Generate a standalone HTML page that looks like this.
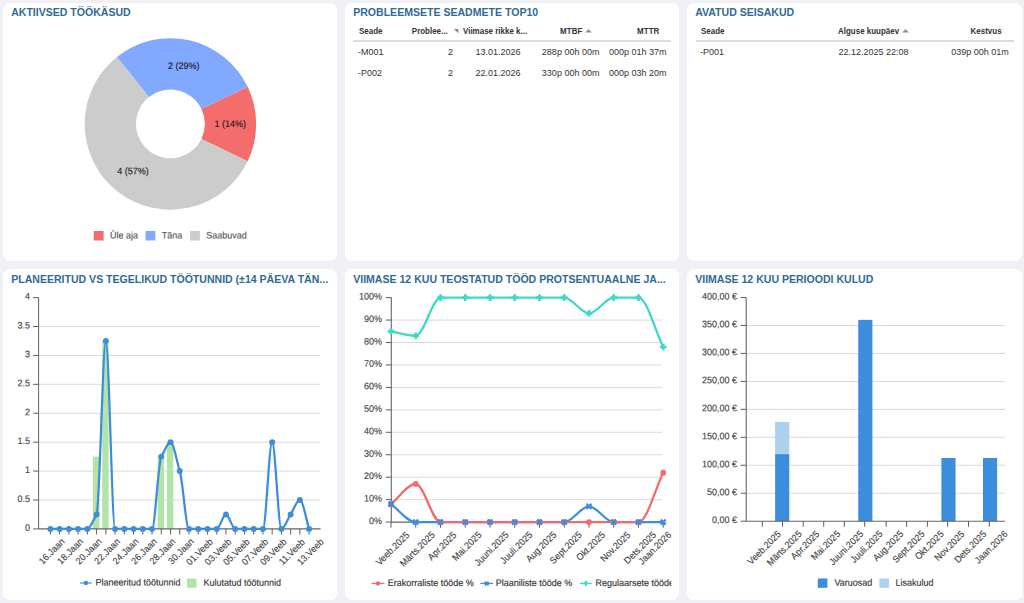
<!DOCTYPE html>
<html lang="et"><head><meta charset="utf-8"><title>Dashboard</title>
<style>
html,body{margin:0;padding:0}
body{width:1024px;height:603px;overflow:hidden;background:#f0f0f5;font-family:"Liberation Sans", Arial, sans-serif;position:relative}
.p{position:absolute;background:#fff;border-radius:7px}
.ttl{position:absolute;font-weight:bold;font-size:10.55px;line-height:12px;color:#2f6a94;white-space:nowrap}
.t{position:absolute;white-space:nowrap;color:#333}
.t.h{font-weight:bold;font-size:8.4px;line-height:12px;transform:scaleX(0.952);transform-origin:0 0}
.t.h.r{transform-origin:100% 0}
.t.d{font-size:9px;line-height:12px}
.hl{position:absolute;height:1.6px;background:#dcdcdc}
svg{position:absolute;left:0;top:0}
svg text{font-family:"Liberation Sans", Arial, sans-serif;stroke-width:0.14px;paint-order:stroke}
</style></head><body>
<div class="p" style="left:3.3px;top:2.8px;width:334px;height:258.2px"></div>
<div class="p" style="left:3.3px;top:268.7px;width:334px;height:331.7px"></div>
<div class="p" style="left:345px;top:2.8px;width:334.35px;height:258.2px"></div>
<div class="p" style="left:345px;top:268.7px;width:334.35px;height:331.7px"></div>
<div class="p" style="left:687.4px;top:2.8px;width:334.4px;height:258.2px"></div>
<div class="p" style="left:687.4px;top:268.7px;width:334.4px;height:331.7px"></div>
<div class="ttl" style="left:11.2px;top:6.35px">AKTIIVSED TÖÖKÄSUD</div>
<div class="ttl" style="left:353.2px;top:6.35px">PROBLEEMSETE SEADMETE TOP10</div>
<div class="ttl" style="left:695.2px;top:6.35px">AVATUD SEISAKUD</div>
<div class="ttl" style="left:11.2px;top:272.85px">PLANEERITUD VS TEGELIKUD TÖÖTUNNID (±14 PÄEVA TÄN...</div>
<div class="ttl" style="left:353.2px;top:272.85px">VIIMASE 12 KUU TEOSTATUD TÖÖD PROTSENTUAALNE JA...</div>
<div class="ttl" style="left:695.2px;top:272.85px">VIIMASE 12 KUU PERIOODI KULUD</div>
<span class="t h" style="left:359.3px;top:25px">Seade</span><span class="t h r" style="right:576.1px;top:25px">Problee...</span><span class="t h" style="left:462.8px;top:25px">Viimase rikke k...</span><span class="t h r" style="right:441.6px;top:25px">MTBF</span><span class="t h r" style="right:364.8px;top:25px">MTTR</span><span class="t d" style="left:358px;top:46px">-M001</span><span class="t d r" style="right:570.9px;top:46px">2</span><span class="t d" style="left:475.5px;top:46px">13.01.2026</span><span class="t d r" style="right:424.6px;top:46px">288p 00h 00m</span><span class="t d r" style="right:357.5px;top:46px">000p 01h 37m</span><span class="t d" style="left:358px;top:67px">-P002</span><span class="t d r" style="right:570.9px;top:67px">2</span><span class="t d" style="left:475.5px;top:67px">22.01.2026</span><span class="t d r" style="right:424.6px;top:67px">330p 00h 00m</span><span class="t d r" style="right:357.5px;top:67px">000p 03h 20m</span><div class="hl" style="left:353.3px;top:40.3px;width:317.9px"></div>
<span class="t h" style="left:701.3px;top:25px">Seade</span><span class="t h" style="left:837.8px;top:25px">Alguse kuupäev</span><span class="t h r" style="right:22.8px;top:25px">Kestvus</span><span class="t d" style="left:700px;top:46px">-P001</span><span class="t d" style="left:838.5px;top:46px">22.12.2025 22:08</span><span class="t d r" style="right:15.2px;top:46px">039p 00h 01m</span><div class="hl" style="left:695.6px;top:40.3px;width:318.2px"></div>
<svg width="1024" height="603" viewBox="0 0 1024 603">
<g><path d="M247.66 161.16A85.75 85.75 0 0 0 247.66 86.74L201.39 109.02A34.4 34.4 0 0 1 201.39 138.88Z" fill="#f56c6c"/><path d="M247.66 86.74A85.75 85.75 0 0 0 116.94 56.91L148.95 97.05A34.4 34.4 0 0 1 201.39 109.02Z" fill="#80a9ff"/><path d="M116.94 56.91A85.75 85.75 0 1 0 247.66 161.16L201.39 138.88A34.4 34.4 0 1 1 148.95 97.05Z" fill="#cccccc"/><g font-size="9" fill="#1c1c1c" stroke="#1c1c1c"><text transform="translate(183.7 68.9) rotate(0.03) scale(1 1.05)" text-anchor="middle">2 (29%)</text><text transform="translate(230.3 126.9) rotate(0.03) scale(1 1.05)" text-anchor="middle">1 (14%)</text><text transform="translate(133 174.2) rotate(0.03) scale(1 1.05)" text-anchor="middle">4 (57%)</text></g><rect x="93.8" y="231" width="9.8" height="9.5" fill="#f56c6c"/><rect x="145.6" y="231" width="9.8" height="9.5" fill="#80a9ff"/><rect x="190.1" y="231" width="9.8" height="9.5" fill="#cccccc"/><g font-size="9" fill="#555555" stroke="#555555"><text transform="translate(110 238.5) rotate(0.03) scale(1 1.05)">Üle aja</text><text transform="translate(161.8 238.5) rotate(0.03) scale(1 1.05)">Täna</text><text transform="translate(206.3 238.5) rotate(0.03) scale(1 1.05)">Saabuvad</text></g></g>
<g><line x1="38.6" x2="320.6" y1="499.99" y2="499.99" stroke="#d6d6d6" stroke-width="0.9"/><line x1="38.6" x2="320.6" y1="471.07" y2="471.07" stroke="#d6d6d6" stroke-width="0.9"/><line x1="38.6" x2="320.6" y1="442.16" y2="442.16" stroke="#d6d6d6" stroke-width="0.9"/><line x1="38.6" x2="320.6" y1="413.25" y2="413.25" stroke="#d6d6d6" stroke-width="0.9"/><line x1="38.6" x2="320.6" y1="384.34" y2="384.34" stroke="#d6d6d6" stroke-width="0.9"/><line x1="38.6" x2="320.6" y1="355.43" y2="355.43" stroke="#d6d6d6" stroke-width="0.9"/><line x1="38.6" x2="320.6" y1="326.51" y2="326.51" stroke="#d6d6d6" stroke-width="0.9"/><rect x="93" y="456.62" width="6.4" height="72.28" fill="#b2e3a7"/><rect x="102.24" y="340.97" width="6.4" height="187.93" fill="#b2e3a7"/><rect x="157.68" y="456.62" width="6.4" height="72.28" fill="#b2e3a7"/><rect x="166.92" y="442.16" width="6.4" height="86.74" fill="#b2e3a7"/><line x1="38.6" x2="38.6" y1="297.6" y2="528.9" stroke="#666666" stroke-width="1"/><line x1="38.6" x2="320.6" y1="528.9" y2="528.9" stroke="#666666" stroke-width="1.1"/><line x1="33.1" x2="38.6" y1="528.9" y2="528.9" stroke="#555555" stroke-width="0.95"/><line x1="33.1" x2="38.6" y1="499.99" y2="499.99" stroke="#555555" stroke-width="0.95"/><line x1="33.1" x2="38.6" y1="471.07" y2="471.07" stroke="#555555" stroke-width="0.95"/><line x1="33.1" x2="38.6" y1="442.16" y2="442.16" stroke="#555555" stroke-width="0.95"/><line x1="33.1" x2="38.6" y1="413.25" y2="413.25" stroke="#555555" stroke-width="0.95"/><line x1="33.1" x2="38.6" y1="384.34" y2="384.34" stroke="#555555" stroke-width="0.95"/><line x1="33.1" x2="38.6" y1="355.43" y2="355.43" stroke="#555555" stroke-width="0.95"/><line x1="33.1" x2="38.6" y1="326.51" y2="326.51" stroke="#555555" stroke-width="0.95"/><line x1="33.1" x2="38.6" y1="297.6" y2="297.6" stroke="#555555" stroke-width="0.95"/><line x1="50.4" x2="50.4" y1="528.9" y2="534.5" stroke="#555555" stroke-width="0.95"/><line x1="59.64" x2="59.64" y1="528.9" y2="534.5" stroke="#555555" stroke-width="0.95"/><line x1="68.88" x2="68.88" y1="528.9" y2="534.5" stroke="#555555" stroke-width="0.95"/><line x1="78.12" x2="78.12" y1="528.9" y2="534.5" stroke="#555555" stroke-width="0.95"/><line x1="87.36" x2="87.36" y1="528.9" y2="534.5" stroke="#555555" stroke-width="0.95"/><line x1="96.6" x2="96.6" y1="528.9" y2="534.5" stroke="#555555" stroke-width="0.95"/><line x1="105.84" x2="105.84" y1="528.9" y2="534.5" stroke="#555555" stroke-width="0.95"/><line x1="115.08" x2="115.08" y1="528.9" y2="534.5" stroke="#555555" stroke-width="0.95"/><line x1="124.32" x2="124.32" y1="528.9" y2="534.5" stroke="#555555" stroke-width="0.95"/><line x1="133.56" x2="133.56" y1="528.9" y2="534.5" stroke="#555555" stroke-width="0.95"/><line x1="142.8" x2="142.8" y1="528.9" y2="534.5" stroke="#555555" stroke-width="0.95"/><line x1="152.04" x2="152.04" y1="528.9" y2="534.5" stroke="#555555" stroke-width="0.95"/><line x1="161.28" x2="161.28" y1="528.9" y2="534.5" stroke="#555555" stroke-width="0.95"/><line x1="170.52" x2="170.52" y1="528.9" y2="534.5" stroke="#555555" stroke-width="0.95"/><line x1="179.76" x2="179.76" y1="528.9" y2="534.5" stroke="#555555" stroke-width="0.95"/><line x1="189" x2="189" y1="528.9" y2="534.5" stroke="#555555" stroke-width="0.95"/><line x1="198.24" x2="198.24" y1="528.9" y2="534.5" stroke="#555555" stroke-width="0.95"/><line x1="207.48" x2="207.48" y1="528.9" y2="534.5" stroke="#555555" stroke-width="0.95"/><line x1="216.72" x2="216.72" y1="528.9" y2="534.5" stroke="#555555" stroke-width="0.95"/><line x1="225.96" x2="225.96" y1="528.9" y2="534.5" stroke="#555555" stroke-width="0.95"/><line x1="235.2" x2="235.2" y1="528.9" y2="534.5" stroke="#555555" stroke-width="0.95"/><line x1="244.44" x2="244.44" y1="528.9" y2="534.5" stroke="#555555" stroke-width="0.95"/><line x1="253.68" x2="253.68" y1="528.9" y2="534.5" stroke="#555555" stroke-width="0.95"/><line x1="262.92" x2="262.92" y1="528.9" y2="534.5" stroke="#555555" stroke-width="0.95"/><line x1="272.16" x2="272.16" y1="528.9" y2="534.5" stroke="#555555" stroke-width="0.95"/><line x1="281.4" x2="281.4" y1="528.9" y2="534.5" stroke="#555555" stroke-width="0.95"/><line x1="290.64" x2="290.64" y1="528.9" y2="534.5" stroke="#555555" stroke-width="0.95"/><line x1="299.88" x2="299.88" y1="528.9" y2="534.5" stroke="#555555" stroke-width="0.95"/><line x1="309.12" x2="309.12" y1="528.9" y2="534.5" stroke="#555555" stroke-width="0.95"/><g font-size="9" fill="#444444" stroke="#444444" text-anchor="end"><text transform="translate(30.1 530.8) rotate(0.03) scale(1 1.05)">0</text><text transform="translate(30.1 501.89) rotate(0.03) scale(1 1.05)">0.5</text><text transform="translate(30.1 472.97) rotate(0.03) scale(1 1.05)">1</text><text transform="translate(30.1 444.06) rotate(0.03) scale(1 1.05)">1.5</text><text transform="translate(30.1 415.15) rotate(0.03) scale(1 1.05)">2</text><text transform="translate(30.1 386.24) rotate(0.03) scale(1 1.05)">2.5</text><text transform="translate(30.1 357.32) rotate(0.03) scale(1 1.05)">3</text><text transform="translate(30.1 328.41) rotate(0.03) scale(1 1.05)">3.5</text><text transform="translate(30.1 299.5) rotate(0.03) scale(1 1.05)">4</text></g><g font-size="9" fill="#444444" stroke="#444444"><text transform="translate(51.6 551.23) rotate(-45) scale(1 1.05)" text-anchor="middle" dy="0.35em">16.Jaan</text><text transform="translate(70.08 551.23) rotate(-45) scale(1 1.05)" text-anchor="middle" dy="0.35em">18.Jaan</text><text transform="translate(88.56 551.23) rotate(-45) scale(1 1.05)" text-anchor="middle" dy="0.35em">20.Jaan</text><text transform="translate(107.04 551.23) rotate(-45) scale(1 1.05)" text-anchor="middle" dy="0.35em">22.Jaan</text><text transform="translate(125.52 551.23) rotate(-45) scale(1 1.05)" text-anchor="middle" dy="0.35em">24.Jaan</text><text transform="translate(144 551.23) rotate(-45) scale(1 1.05)" text-anchor="middle" dy="0.35em">26.Jaan</text><text transform="translate(162.48 551.23) rotate(-45) scale(1 1.05)" text-anchor="middle" dy="0.35em">28.Jaan</text><text transform="translate(180.96 551.23) rotate(-45) scale(1 1.05)" text-anchor="middle" dy="0.35em">30.Jaan</text><text transform="translate(199.44 551.77) rotate(-45) scale(1 1.05)" text-anchor="middle" dy="0.35em">01.Veeb</text><text transform="translate(217.92 551.77) rotate(-45) scale(1 1.05)" text-anchor="middle" dy="0.35em">03.Veeb</text><text transform="translate(236.4 551.77) rotate(-45) scale(1 1.05)" text-anchor="middle" dy="0.35em">05.Veeb</text><text transform="translate(254.88 551.77) rotate(-45) scale(1 1.05)" text-anchor="middle" dy="0.35em">07.Veeb</text><text transform="translate(273.36 551.77) rotate(-45) scale(1 1.05)" text-anchor="middle" dy="0.35em">09.Veeb</text><text transform="translate(291.84 551.77) rotate(-45) scale(1 1.05)" text-anchor="middle" dy="0.35em">11.Veeb</text><text transform="translate(310.32 551.77) rotate(-45) scale(1 1.05)" text-anchor="middle" dy="0.35em">13.Veeb</text></g><path d="M50.4 528.9C53.48 528.9 56.56 528.9 59.64 528.9C62.72 528.9 65.8 528.9 68.88 528.9C71.96 528.9 75.04 528.9 78.12 528.9C81.2 528.9 84.28 528.9 87.36 528.9C90.44 528.9 93.52 519.26 96.6 514.44C99.68 509.63 102.76 340.97 105.84 340.97C108.92 340.97 112 528.9 115.08 528.9C118.16 528.9 121.24 528.9 124.32 528.9C127.4 528.9 130.48 528.9 133.56 528.9C136.64 528.9 139.72 528.9 142.8 528.9C145.88 528.9 148.96 528.9 152.04 528.9C155.12 528.9 158.2 461.44 161.28 456.62C164.36 451.8 167.44 442.16 170.52 442.16C173.6 442.16 176.68 461.44 179.76 471.07C182.84 480.71 185.92 528.9 189 528.9C192.08 528.9 195.16 528.9 198.24 528.9C201.32 528.9 204.4 528.9 207.48 528.9C210.56 528.9 213.64 528.9 216.72 528.9C219.8 528.9 222.88 514.44 225.96 514.44C229.04 514.44 232.12 528.9 235.2 528.9C238.28 528.9 241.36 528.9 244.44 528.9C247.52 528.9 250.6 528.9 253.68 528.9C256.76 528.9 259.84 528.9 262.92 528.9C266 528.9 269.08 442.16 272.16 442.16C275.24 442.16 278.32 528.9 281.4 528.9C284.48 528.9 287.56 519.26 290.64 514.44C293.72 509.63 296.8 499.99 299.88 499.99C302.96 499.99 306.04 519.26 309.12 528.9" fill="none" stroke="#3d8ddd" stroke-width="2.25" stroke-linejoin="round"/><circle cx="50.4" cy="528.9" r="2.95" fill="#3d8ddd"/><circle cx="59.64" cy="528.9" r="2.95" fill="#3d8ddd"/><circle cx="68.88" cy="528.9" r="2.95" fill="#3d8ddd"/><circle cx="78.12" cy="528.9" r="2.95" fill="#3d8ddd"/><circle cx="87.36" cy="528.9" r="2.95" fill="#3d8ddd"/><circle cx="96.6" cy="514.44" r="2.95" fill="#3d8ddd"/><circle cx="105.84" cy="340.97" r="2.95" fill="#3d8ddd"/><circle cx="115.08" cy="528.9" r="2.95" fill="#3d8ddd"/><circle cx="124.32" cy="528.9" r="2.95" fill="#3d8ddd"/><circle cx="133.56" cy="528.9" r="2.95" fill="#3d8ddd"/><circle cx="142.8" cy="528.9" r="2.95" fill="#3d8ddd"/><circle cx="152.04" cy="528.9" r="2.95" fill="#3d8ddd"/><circle cx="161.28" cy="456.62" r="2.95" fill="#3d8ddd"/><circle cx="170.52" cy="442.16" r="2.95" fill="#3d8ddd"/><circle cx="179.76" cy="471.07" r="2.95" fill="#3d8ddd"/><circle cx="189" cy="528.9" r="2.95" fill="#3d8ddd"/><circle cx="198.24" cy="528.9" r="2.95" fill="#3d8ddd"/><circle cx="207.48" cy="528.9" r="2.95" fill="#3d8ddd"/><circle cx="216.72" cy="528.9" r="2.95" fill="#3d8ddd"/><circle cx="225.96" cy="514.44" r="2.95" fill="#3d8ddd"/><circle cx="235.2" cy="528.9" r="2.95" fill="#3d8ddd"/><circle cx="244.44" cy="528.9" r="2.95" fill="#3d8ddd"/><circle cx="253.68" cy="528.9" r="2.95" fill="#3d8ddd"/><circle cx="262.92" cy="528.9" r="2.95" fill="#3d8ddd"/><circle cx="272.16" cy="442.16" r="2.95" fill="#3d8ddd"/><circle cx="281.4" cy="528.9" r="2.95" fill="#3d8ddd"/><circle cx="290.64" cy="514.44" r="2.95" fill="#3d8ddd"/><circle cx="299.88" cy="499.99" r="2.95" fill="#3d8ddd"/><circle cx="309.12" cy="528.9" r="2.95" fill="#3d8ddd"/><line x1="79.9" x2="91.6" y1="583" y2="583" stroke="#3d8ddd" stroke-width="1.2"/><circle cx="85.9" cy="583" r="2.2" fill="#3d8ddd"/><rect x="187" y="578.6" width="9.5" height="9.2" fill="#b2e3a7"/><g font-size="9" fill="#333333" stroke="#333333"><text transform="translate(95.6 585.5) rotate(0.03) scale(1 1.05)">Planeeritud töötunnid</text><text transform="translate(203.4 585.7) rotate(0.03) scale(1 1.05)">Kulutatud töötunnid</text></g></g>
<g><line x1="391.3" x2="662.2" y1="499.65" y2="499.65" stroke="#d6d6d6" stroke-width="0.9"/><line x1="391.3" x2="662.2" y1="477.2" y2="477.2" stroke="#d6d6d6" stroke-width="0.9"/><line x1="391.3" x2="662.2" y1="454.75" y2="454.75" stroke="#d6d6d6" stroke-width="0.9"/><line x1="391.3" x2="662.2" y1="432.3" y2="432.3" stroke="#d6d6d6" stroke-width="0.9"/><line x1="391.3" x2="662.2" y1="409.85" y2="409.85" stroke="#d6d6d6" stroke-width="0.9"/><line x1="391.3" x2="662.2" y1="387.4" y2="387.4" stroke="#d6d6d6" stroke-width="0.9"/><line x1="391.3" x2="662.2" y1="364.95" y2="364.95" stroke="#d6d6d6" stroke-width="0.9"/><line x1="391.3" x2="662.2" y1="342.5" y2="342.5" stroke="#d6d6d6" stroke-width="0.9"/><line x1="391.3" x2="662.2" y1="320.05" y2="320.05" stroke="#d6d6d6" stroke-width="0.9"/><line x1="391.3" x2="391.3" y1="297.6" y2="522.1" stroke="#666666" stroke-width="1.1"/><line x1="391.3" x2="662.2" y1="522.1" y2="522.1" stroke="#666666" stroke-width="1.1"/><line x1="385.8" x2="391.3" y1="522.1" y2="522.1" stroke="#555555" stroke-width="0.95"/><line x1="385.8" x2="391.3" y1="499.65" y2="499.65" stroke="#555555" stroke-width="0.95"/><line x1="385.8" x2="391.3" y1="477.2" y2="477.2" stroke="#555555" stroke-width="0.95"/><line x1="385.8" x2="391.3" y1="454.75" y2="454.75" stroke="#555555" stroke-width="0.95"/><line x1="385.8" x2="391.3" y1="432.3" y2="432.3" stroke="#555555" stroke-width="0.95"/><line x1="385.8" x2="391.3" y1="409.85" y2="409.85" stroke="#555555" stroke-width="0.95"/><line x1="385.8" x2="391.3" y1="387.4" y2="387.4" stroke="#555555" stroke-width="0.95"/><line x1="385.8" x2="391.3" y1="364.95" y2="364.95" stroke="#555555" stroke-width="0.95"/><line x1="385.8" x2="391.3" y1="342.5" y2="342.5" stroke="#555555" stroke-width="0.95"/><line x1="385.8" x2="391.3" y1="320.05" y2="320.05" stroke="#555555" stroke-width="0.95"/><line x1="385.8" x2="391.3" y1="297.6" y2="297.6" stroke="#555555" stroke-width="0.95"/><line x1="391" x2="391" y1="522.1" y2="527.7" stroke="#555555" stroke-width="0.95"/><line x1="415.75" x2="415.75" y1="522.1" y2="527.7" stroke="#555555" stroke-width="0.95"/><line x1="440.5" x2="440.5" y1="522.1" y2="527.7" stroke="#555555" stroke-width="0.95"/><line x1="465.25" x2="465.25" y1="522.1" y2="527.7" stroke="#555555" stroke-width="0.95"/><line x1="490" x2="490" y1="522.1" y2="527.7" stroke="#555555" stroke-width="0.95"/><line x1="514.75" x2="514.75" y1="522.1" y2="527.7" stroke="#555555" stroke-width="0.95"/><line x1="539.5" x2="539.5" y1="522.1" y2="527.7" stroke="#555555" stroke-width="0.95"/><line x1="564.25" x2="564.25" y1="522.1" y2="527.7" stroke="#555555" stroke-width="0.95"/><line x1="589" x2="589" y1="522.1" y2="527.7" stroke="#555555" stroke-width="0.95"/><line x1="613.75" x2="613.75" y1="522.1" y2="527.7" stroke="#555555" stroke-width="0.95"/><line x1="638.5" x2="638.5" y1="522.1" y2="527.7" stroke="#555555" stroke-width="0.95"/><line x1="663.25" x2="663.25" y1="522.1" y2="527.7" stroke="#555555" stroke-width="0.95"/><g font-size="9" fill="#444444" stroke="#444444" text-anchor="end"><text transform="translate(382.1 524) rotate(0.03) scale(1 1.05)">0%</text><text transform="translate(382.1 501.55) rotate(0.03) scale(1 1.05)">10%</text><text transform="translate(382.1 479.1) rotate(0.03) scale(1 1.05)">20%</text><text transform="translate(382.1 456.65) rotate(0.03) scale(1 1.05)">30%</text><text transform="translate(382.1 434.2) rotate(0.03) scale(1 1.05)">40%</text><text transform="translate(382.1 411.75) rotate(0.03) scale(1 1.05)">50%</text><text transform="translate(382.1 389.3) rotate(0.03) scale(1 1.05)">60%</text><text transform="translate(382.1 366.85) rotate(0.03) scale(1 1.05)">70%</text><text transform="translate(382.1 344.4) rotate(0.03) scale(1 1.05)">80%</text><text transform="translate(382.1 321.95) rotate(0.03) scale(1 1.05)">90%</text><text transform="translate(382.1 299.5) rotate(0.03) scale(1 1.05)">100%</text></g><g font-size="9" fill="#444444" stroke="#444444"><text transform="translate(392.5 548.5) rotate(-45) scale(1 1.05)" text-anchor="middle" dy="0.35em">Veeb.2025</text><text transform="translate(417.25 549.03) rotate(-45) scale(1 1.05)" text-anchor="middle" dy="0.35em">Märts.2025</text><text transform="translate(442 546.02) rotate(-45) scale(1 1.05)" text-anchor="middle" dy="0.35em">Apr.2025</text><text transform="translate(466.75 546.2) rotate(-45) scale(1 1.05)" text-anchor="middle" dy="0.35em">Mai.2025</text><text transform="translate(491.5 548.68) rotate(-45) scale(1 1.05)" text-anchor="middle" dy="0.35em">Juuni.2025</text><text transform="translate(516.25 547.62) rotate(-45) scale(1 1.05)" text-anchor="middle" dy="0.35em">Juuli.2025</text><text transform="translate(541 546.73) rotate(-45) scale(1 1.05)" text-anchor="middle" dy="0.35em">Aug.2025</text><text transform="translate(565.75 547.62) rotate(-45) scale(1 1.05)" text-anchor="middle" dy="0.35em">Sept.2025</text><text transform="translate(590.5 546.02) rotate(-45) scale(1 1.05)" text-anchor="middle" dy="0.35em">Okt.2025</text><text transform="translate(615.25 546.73) rotate(-45) scale(1 1.05)" text-anchor="middle" dy="0.35em">Nov.2025</text><text transform="translate(640 547.62) rotate(-45) scale(1 1.05)" text-anchor="middle" dy="0.35em">Dets.2025</text><text transform="translate(654.73 547.97) rotate(-45) scale(1 1.05)" text-anchor="middle" dy="0.35em">Jaan.2026</text></g><path d="M391 504.14C399.25 510.13 407.5 522.1 415.75 522.1C424 522.1 432.25 522.1 440.5 522.1C448.75 522.1 457 522.1 465.25 522.1C473.5 522.1 481.75 522.1 490 522.1C498.25 522.1 506.5 522.1 514.75 522.1C523 522.1 531.25 522.1 539.5 522.1C547.75 522.1 556 522.1 564.25 522.1C572.5 522.1 580.75 506.39 589 506.39C597.25 506.39 605.5 522.1 613.75 522.1C622 522.1 630.25 522.1 638.5 522.1C646.75 522.1 655 522.1 663.25 522.1" fill="none" stroke="#3d8ddd" stroke-width="2.25" stroke-linejoin="round"/><path d="M391 504.14C399.25 497.41 407.5 483.94 415.75 483.94C424 483.94 432.25 522.1 440.5 522.1C448.75 522.1 457 522.1 465.25 522.1C473.5 522.1 481.75 522.1 490 522.1C498.25 522.1 506.5 522.1 514.75 522.1C523 522.1 531.25 522.1 539.5 522.1C547.75 522.1 556 522.1 564.25 522.1C572.5 522.1 580.75 522.1 589 522.1C597.25 522.1 605.5 522.1 613.75 522.1C622 522.1 630.25 522.1 638.5 522.1C646.75 522.1 655 489.17 663.25 472.71" fill="none" stroke="#f4696d" stroke-width="2.25" stroke-linejoin="round"/><path d="M391 331.28C399.25 332.77 407.5 335.76 415.75 335.76C424 335.76 432.25 297.6 440.5 297.6C448.75 297.6 457 297.6 465.25 297.6C473.5 297.6 481.75 297.6 490 297.6C498.25 297.6 506.5 297.6 514.75 297.6C523 297.6 531.25 297.6 539.5 297.6C547.75 297.6 556 297.6 564.25 297.6C572.5 297.6 580.75 313.32 589 313.32C597.25 313.32 605.5 297.6 613.75 297.6C622 297.6 630.25 297.6 638.5 297.6C646.75 297.6 655 330.53 663.25 346.99" fill="none" stroke="#3ed9c6" stroke-width="2.25" stroke-linejoin="round"/><circle cx="391" cy="504.14" r="2.9" fill="#f4696d"/><circle cx="415.75" cy="483.94" r="2.9" fill="#f4696d"/><circle cx="440.5" cy="522.1" r="2.9" fill="#f4696d"/><circle cx="465.25" cy="522.1" r="2.9" fill="#f4696d"/><circle cx="490" cy="522.1" r="2.9" fill="#f4696d"/><circle cx="514.75" cy="522.1" r="2.9" fill="#f4696d"/><circle cx="539.5" cy="522.1" r="2.9" fill="#f4696d"/><circle cx="564.25" cy="522.1" r="2.9" fill="#f4696d"/><circle cx="589" cy="522.1" r="2.9" fill="#f4696d"/><circle cx="613.75" cy="522.1" r="2.9" fill="#f4696d"/><circle cx="638.5" cy="522.1" r="2.9" fill="#f4696d"/><circle cx="663.25" cy="472.71" r="2.9" fill="#f4696d"/><path d="M387.7 502.49L389.35 500.84L391 502.49L392.65 500.84L394.3 502.49L392.65 504.14L394.3 505.79L392.65 507.44L391 505.79L389.35 507.44L387.7 505.79L389.35 504.14ZM412.45 520.45L414.1 518.8L415.75 520.45L417.4 518.8L419.05 520.45L417.4 522.1L419.05 523.75L417.4 525.4L415.75 523.75L414.1 525.4L412.45 523.75L414.1 522.1ZM437.2 520.45L438.85 518.8L440.5 520.45L442.15 518.8L443.8 520.45L442.15 522.1L443.8 523.75L442.15 525.4L440.5 523.75L438.85 525.4L437.2 523.75L438.85 522.1ZM461.95 520.45L463.6 518.8L465.25 520.45L466.9 518.8L468.55 520.45L466.9 522.1L468.55 523.75L466.9 525.4L465.25 523.75L463.6 525.4L461.95 523.75L463.6 522.1ZM486.7 520.45L488.35 518.8L490 520.45L491.65 518.8L493.3 520.45L491.65 522.1L493.3 523.75L491.65 525.4L490 523.75L488.35 525.4L486.7 523.75L488.35 522.1ZM511.45 520.45L513.1 518.8L514.75 520.45L516.4 518.8L518.05 520.45L516.4 522.1L518.05 523.75L516.4 525.4L514.75 523.75L513.1 525.4L511.45 523.75L513.1 522.1ZM536.2 520.45L537.85 518.8L539.5 520.45L541.15 518.8L542.8 520.45L541.15 522.1L542.8 523.75L541.15 525.4L539.5 523.75L537.85 525.4L536.2 523.75L537.85 522.1ZM560.95 520.45L562.6 518.8L564.25 520.45L565.9 518.8L567.55 520.45L565.9 522.1L567.55 523.75L565.9 525.4L564.25 523.75L562.6 525.4L560.95 523.75L562.6 522.1ZM585.7 504.74L587.35 503.09L589 504.74L590.65 503.09L592.3 504.74L590.65 506.39L592.3 508.04L590.65 509.69L589 508.04L587.35 509.69L585.7 508.04L587.35 506.39ZM610.45 520.45L612.1 518.8L613.75 520.45L615.4 518.8L617.05 520.45L615.4 522.1L617.05 523.75L615.4 525.4L613.75 523.75L612.1 525.4L610.45 523.75L612.1 522.1ZM635.2 520.45L636.85 518.8L638.5 520.45L640.15 518.8L641.8 520.45L640.15 522.1L641.8 523.75L640.15 525.4L638.5 523.75L636.85 525.4L635.2 523.75L636.85 522.1ZM659.95 520.45L661.6 518.8L663.25 520.45L664.9 518.8L666.55 520.45L664.9 522.1L666.55 523.75L664.9 525.4L663.25 523.75L661.6 525.4L659.95 523.75L661.6 522.1Z" fill="#3d8ddd"/><path d="M389.65 327.98L392.35 327.98L392.35 329.93L394.3 329.93L394.3 332.63L392.35 332.63L392.35 334.58L389.65 334.58L389.65 332.63L387.7 332.63L387.7 329.93L389.65 329.93ZM414.4 332.46L417.1 332.46L417.1 334.41L419.05 334.41L419.05 337.12L417.1 337.12L417.1 339.06L414.4 339.06L414.4 337.12L412.45 337.12L412.45 334.41L414.4 334.41ZM439.15 294.3L441.85 294.3L441.85 296.25L443.8 296.25L443.8 298.95L441.85 298.95L441.85 300.9L439.15 300.9L439.15 298.95L437.2 298.95L437.2 296.25L439.15 296.25ZM463.9 294.3L466.6 294.3L466.6 296.25L468.55 296.25L468.55 298.95L466.6 298.95L466.6 300.9L463.9 300.9L463.9 298.95L461.95 298.95L461.95 296.25L463.9 296.25ZM488.65 294.3L491.35 294.3L491.35 296.25L493.3 296.25L493.3 298.95L491.35 298.95L491.35 300.9L488.65 300.9L488.65 298.95L486.7 298.95L486.7 296.25L488.65 296.25ZM513.4 294.3L516.1 294.3L516.1 296.25L518.05 296.25L518.05 298.95L516.1 298.95L516.1 300.9L513.4 300.9L513.4 298.95L511.45 298.95L511.45 296.25L513.4 296.25ZM538.15 294.3L540.85 294.3L540.85 296.25L542.8 296.25L542.8 298.95L540.85 298.95L540.85 300.9L538.15 300.9L538.15 298.95L536.2 298.95L536.2 296.25L538.15 296.25ZM562.9 294.3L565.6 294.3L565.6 296.25L567.55 296.25L567.55 298.95L565.6 298.95L565.6 300.9L562.9 300.9L562.9 298.95L560.95 298.95L560.95 296.25L562.9 296.25ZM587.65 310.02L590.35 310.02L590.35 311.97L592.3 311.97L592.3 314.67L590.35 314.67L590.35 316.62L587.65 316.62L587.65 314.67L585.7 314.67L585.7 311.97L587.65 311.97ZM612.4 294.3L615.1 294.3L615.1 296.25L617.05 296.25L617.05 298.95L615.1 298.95L615.1 300.9L612.4 300.9L612.4 298.95L610.45 298.95L610.45 296.25L612.4 296.25ZM637.15 294.3L639.85 294.3L639.85 296.25L641.8 296.25L641.8 298.95L639.85 298.95L639.85 300.9L637.15 300.9L637.15 298.95L635.2 298.95L635.2 296.25L637.15 296.25ZM661.9 343.69L664.6 343.69L664.6 345.64L666.55 345.64L666.55 348.34L664.6 348.34L664.6 350.29L661.9 350.29L661.9 348.34L659.95 348.34L659.95 345.64L661.9 345.64Z" fill="#3ed9c6"/><line x1="371.6" x2="384.5" y1="583.4" y2="583.4" stroke="#f4696d" stroke-width="1.2"/><circle cx="378" cy="583.4" r="2.2" fill="#f4696d"/><line x1="480.3" x2="493.1" y1="583.4" y2="583.4" stroke="#3d8ddd" stroke-width="1.2"/><path d="M484.2 582.15L485.45 580.9L486.7 582.15L487.95 580.9L489.2 582.15L487.95 583.4L489.2 584.65L487.95 585.9L486.7 584.65L485.45 585.9L484.2 584.65L485.45 583.4Z" fill="#3d8ddd"/><line x1="580" x2="591.8" y1="583.4" y2="583.4" stroke="#3ed9c6" stroke-width="1.2"/><path d="M584.95 580.8L586.85 580.8L586.85 582.45L588.5 582.45L588.5 584.35L586.85 584.35L586.85 586L584.95 586L584.95 584.35L583.3 584.35L583.3 582.45L584.95 582.45Z" fill="#3ed9c6"/><g font-size="9" fill="#333333" stroke="#333333" clip-path="url(#c5)"><text transform="translate(387.7 586) rotate(0.03) scale(1 1.05)">Erakorraliste tööde %</text><text transform="translate(495.7 586) rotate(0.03) scale(1 1.05)">Plaaniliste tööde %</text><text transform="translate(595.6 586) rotate(0.03) scale(1 1.05)">Regulaarsete tööde %</text></g><clipPath id="c5"><rect x="353" y="570" width="318.3" height="26"/></clipPath></g>
<g><line x1="746.2" x2="1005" y1="493.24" y2="493.24" stroke="#d6d6d6" stroke-width="0.9"/><line x1="746.2" x2="1005" y1="465.28" y2="465.28" stroke="#d6d6d6" stroke-width="0.9"/><line x1="746.2" x2="1005" y1="437.31" y2="437.31" stroke="#d6d6d6" stroke-width="0.9"/><line x1="746.2" x2="1005" y1="409.35" y2="409.35" stroke="#d6d6d6" stroke-width="0.9"/><line x1="746.2" x2="1005" y1="381.39" y2="381.39" stroke="#d6d6d6" stroke-width="0.9"/><line x1="746.2" x2="1005" y1="353.43" y2="353.43" stroke="#d6d6d6" stroke-width="0.9"/><line x1="746.2" x2="1005" y1="325.46" y2="325.46" stroke="#d6d6d6" stroke-width="0.9"/><rect x="775.12" y="454.09" width="14.15" height="67.11" fill="#3d8ddd"/><rect x="775.12" y="421.93" width="14.15" height="32.16" fill="#aed2ee"/><rect x="858.26" y="319.87" width="14.15" height="201.33" fill="#3d8ddd"/><rect x="941.4" y="458" width="14.15" height="63.2" fill="#3d8ddd"/><rect x="982.98" y="458" width="14.15" height="63.2" fill="#3d8ddd"/><line x1="746.2" x2="746.2" y1="297.5" y2="521.2" stroke="#666666" stroke-width="1.1"/><line x1="746.2" x2="1005" y1="521.2" y2="521.2" stroke="#666666" stroke-width="1.1"/><line x1="740.7" x2="746.2" y1="521.2" y2="521.2" stroke="#555555" stroke-width="0.95"/><line x1="740.7" x2="746.2" y1="493.24" y2="493.24" stroke="#555555" stroke-width="0.95"/><line x1="740.7" x2="746.2" y1="465.28" y2="465.28" stroke="#555555" stroke-width="0.95"/><line x1="740.7" x2="746.2" y1="437.31" y2="437.31" stroke="#555555" stroke-width="0.95"/><line x1="740.7" x2="746.2" y1="409.35" y2="409.35" stroke="#555555" stroke-width="0.95"/><line x1="740.7" x2="746.2" y1="381.39" y2="381.39" stroke="#555555" stroke-width="0.95"/><line x1="740.7" x2="746.2" y1="353.43" y2="353.43" stroke="#555555" stroke-width="0.95"/><line x1="740.7" x2="746.2" y1="325.46" y2="325.46" stroke="#555555" stroke-width="0.95"/><line x1="740.7" x2="746.2" y1="297.5" y2="297.5" stroke="#555555" stroke-width="0.95"/><line x1="762.3" x2="762.3" y1="521.2" y2="526.8" stroke="#555555" stroke-width="0.95"/><line x1="782.5" x2="782.5" y1="521.2" y2="526.8" stroke="#555555" stroke-width="0.95"/><line x1="803.2" x2="803.2" y1="521.2" y2="526.8" stroke="#555555" stroke-width="0.95"/><line x1="823.7" x2="823.7" y1="521.2" y2="526.8" stroke="#555555" stroke-width="0.95"/><line x1="844.3" x2="844.3" y1="521.2" y2="526.8" stroke="#555555" stroke-width="0.95"/><line x1="864.7" x2="864.7" y1="521.2" y2="526.8" stroke="#555555" stroke-width="0.95"/><line x1="886.2" x2="886.2" y1="521.2" y2="526.8" stroke="#555555" stroke-width="0.95"/><line x1="906.6" x2="906.6" y1="521.2" y2="526.8" stroke="#555555" stroke-width="0.95"/><line x1="927.4" x2="927.4" y1="521.2" y2="526.8" stroke="#555555" stroke-width="0.95"/><line x1="947.6" x2="947.6" y1="521.2" y2="526.8" stroke="#555555" stroke-width="0.95"/><line x1="968.5" x2="968.5" y1="521.2" y2="526.8" stroke="#555555" stroke-width="0.95"/><line x1="989.3" x2="989.3" y1="521.2" y2="526.8" stroke="#555555" stroke-width="0.95"/><g font-size="9" fill="#444444" stroke="#444444" text-anchor="end"><text transform="translate(737 523.1) rotate(0.03) scale(1 1.05)">0,00 €</text><text transform="translate(737 495.14) rotate(0.03) scale(1 1.05)">50,00 €</text><text transform="translate(737 467.18) rotate(0.03) scale(1 1.05)">100,00 €</text><text transform="translate(737 439.21) rotate(0.03) scale(1 1.05)">150,00 €</text><text transform="translate(737 411.25) rotate(0.03) scale(1 1.05)">200,00 €</text><text transform="translate(737 383.29) rotate(0.03) scale(1 1.05)">250,00 €</text><text transform="translate(737 355.32) rotate(0.03) scale(1 1.05)">300,00 €</text><text transform="translate(737 327.36) rotate(0.03) scale(1 1.05)">350,00 €</text><text transform="translate(737 299.4) rotate(0.03) scale(1 1.05)">400,00 €</text></g><g font-size="9" fill="#444444" stroke="#444444"><text transform="translate(764.1 547.6) rotate(-45) scale(1 1.05)" text-anchor="middle" dy="0.35em">Veeb.2025</text><text transform="translate(784.3 548.13) rotate(-45) scale(1 1.05)" text-anchor="middle" dy="0.35em">Märts.2025</text><text transform="translate(805 545.12) rotate(-45) scale(1 1.05)" text-anchor="middle" dy="0.35em">Apr.2025</text><text transform="translate(825.5 545.3) rotate(-45) scale(1 1.05)" text-anchor="middle" dy="0.35em">Mai.2025</text><text transform="translate(846.1 547.78) rotate(-45) scale(1 1.05)" text-anchor="middle" dy="0.35em">Juuni.2025</text><text transform="translate(866.5 546.72) rotate(-45) scale(1 1.05)" text-anchor="middle" dy="0.35em">Juuli.2025</text><text transform="translate(888 545.83) rotate(-45) scale(1 1.05)" text-anchor="middle" dy="0.35em">Aug.2025</text><text transform="translate(908.4 546.72) rotate(-45) scale(1 1.05)" text-anchor="middle" dy="0.35em">Sept.2025</text><text transform="translate(929.2 545.12) rotate(-45) scale(1 1.05)" text-anchor="middle" dy="0.35em">Okt.2025</text><text transform="translate(949.4 545.83) rotate(-45) scale(1 1.05)" text-anchor="middle" dy="0.35em">Nov.2025</text><text transform="translate(970.3 546.72) rotate(-45) scale(1 1.05)" text-anchor="middle" dy="0.35em">Dets.2025</text><text transform="translate(991.1 547.07) rotate(-45) scale(1 1.05)" text-anchor="middle" dy="0.35em">Jaan.2026</text></g><rect x="817.8" y="578.5" width="9.6" height="9.3" fill="#3d8ddd"/><rect x="879.4" y="578.5" width="9.6" height="9.3" fill="#aed2ee"/><g font-size="9" fill="#333333" stroke="#333333"><text transform="translate(834.5 585.8) rotate(0.03) scale(1 1.05)">Varuosad</text><text transform="translate(895.6 585.8) rotate(0.03) scale(1 1.05)">Lisakulud</text></g></g>
<path d="M585.2 32.5L588.55 28.9L591.9 32.5Z" fill="#929292"/><path d="M902.2 32.5L905.55 28.9L908.9 32.5Z" fill="#929292"/><path d="M453.9 28.9L458.3 28.9L458.3 33.3Z" fill="#868686"/></svg>
</body></html>
